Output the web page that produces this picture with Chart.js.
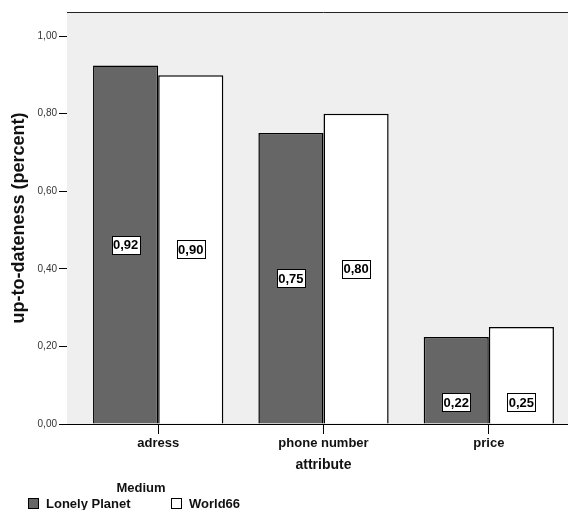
<!DOCTYPE html>
<html>
<head>
<meta charset="utf-8">
<script src="https://cdn.jsdelivr.net/npm/chart.js@4/dist/chart.umd.min.js"></script>
<style>
  html, body { margin: 0; padding: 0; background: #fff; overflow: hidden; }
  canvas { display: block; }
</style>
</head>
<body>
<canvas id="chart" width="580" height="510"></canvas>
<script>
const categories = ['adress', 'phone number', 'price'];
const lonelyPlanet = [0.924, 0.75, 0.224];
const world66 = [0.899, 0.80, 0.25];
const seriesNames = ['Lonely Planet', 'World66'];
const yTicks = [0, 0.2, 0.4, 0.6, 0.8, 1.0];

const FONT = 'Arial, "Liberation Sans", sans-serif';
const fmt = v => v.toFixed(2).replace('.', ',');

// grey plot background + top frame line
const plotFrame = {
  id: 'plotFrame',
  beforeDatasetsDraw(chart) {
    const { ctx, chartArea: a } = chart;
    ctx.save();
    ctx.fillStyle = '#efefef';
    ctx.fillRect(a.left, a.top, a.right - a.left, a.bottom - a.top);
    ctx.strokeStyle = '#222';
    ctx.lineWidth = 1;
    ctx.beginPath();
    ctx.moveTo(a.left, a.top + 0.5);
    ctx.lineTo(a.right, a.top + 0.5);
    ctx.stroke();
    ctx.restore();
  }
};

// boxed value labels inside the bars (short bars: near the bottom)
const valueBoxes = {
  id: 'valueBoxes',
  afterDatasetsDraw(chart) {
    const { ctx } = chart;
    ctx.save();
    ctx.font = 'bold 13px ' + FONT;
    ctx.textAlign = 'center';
    ctx.textBaseline = 'middle';
    chart.data.datasets.forEach((ds, di) => {
      chart.getDatasetMeta(di).data.forEach((bar, i) => {
        const text = fmt(ds.data[i].y);
        const w = Math.round(ctx.measureText(text).width + 3);
        const h = 18;
        const tall = bar.base - bar.y > 120;
        const y = tall ? (bar.y + bar.base) / 2 : bar.base - 21.5;
        const x = bar.x;
        const bx = Math.round(x - w / 2) + 0.5;
        const by = Math.round(y - h / 2) + 0.5;
        ctx.fillStyle = '#fff';
        ctx.fillRect(bx, by, w, h);
        ctx.strokeStyle = '#000';
        ctx.lineWidth = 1;
        ctx.strokeRect(bx, by, w, h);
        ctx.fillStyle = '#000';
        ctx.fillText(text, x, y + 1);
      });
    });
    ctx.restore();
  }
};

// SPSS style legend at the bottom left
const bottomLegend = {
  id: 'bottomLegend',
  afterDraw(chart) {
    const { ctx } = chart;
    ctx.save();
    ctx.font = 'bold 13px ' + FONT;
    ctx.fillStyle = '#111';
    ctx.textAlign = 'center';
    ctx.textBaseline = 'middle';
    ctx.fillText('Medium', 141, 488);
    ctx.textAlign = 'left';
    chart.data.datasets.forEach((ds, i) => {
      const x = 28 + i * 143;
      ctx.fillStyle = ds.backgroundColor;
      ctx.fillRect(x + 0.5, 498.5, 10, 10);
      ctx.strokeStyle = '#000';
      ctx.lineWidth = 1;
      ctx.strokeRect(x + 0.5, 498.5, 10, 10);
      ctx.fillStyle = '#111';
      ctx.fillText(ds.label, x + 18, 504);
    });
    ctx.restore();
  }
};

new Chart(document.getElementById('chart'), {
  type: 'bar',
  data: {
    datasets: [
      {
        label: seriesNames[0],
        data: lonelyPlanet.map((v, i) => ({ x: i, y: v })),
        backgroundColor: '#666666',
        borderColor: '#000000',
        borderWidth: 1.5,
      },
      {
        label: seriesNames[1],
        data: world66.map((v, i) => ({ x: i, y: v })),
        backgroundColor: '#ffffff',
        borderColor: '#000000',
        borderWidth: 1.5,
      },
    ],
  },
  options: {
    responsive: false,
    animation: false,
    barPercentage: 1,
    categoryPercentage: 0.788,
    layout: { padding: { top: 12, left: 0, right: 0, bottom: 30 } },
    plugins: {
      legend: { display: false },
      tooltip: { enabled: false },
    },
    scales: {
      x: {
        type: 'linear',
        min: -0.5515,
        max: 2.5515,
        offset: false,
        grid: { offset: false, drawOnChartArea: false, drawTicks: true, tickLength: 10, color: '#000' },
        border: { display: true, color: '#000', width: 1 },
        afterBuildTicks: s => { s.ticks = categories.map((c, i) => ({ value: i })); },
        afterFit: s => { s.height = 56; },
        ticks: {
          autoSkip: false,
          maxRotation: 0,
          padding: 2,
          color: '#111',
          font: { family: FONT, size: 13, weight: 'bold' },
          callback: v => categories[v],
        },
        title: {
          display: true,
          text: 'attribute',
          color: '#111',
          font: { family: FONT, size: 14, weight: 'bold' },
          padding: { top: 0, bottom: 6 },
        },
      },
      y: {
        min: 0,
        max: 1.062,
        grid: { drawOnChartArea: false, drawTicks: true, tickLength: 8, color: '#000' },
        border: { display: true, color: '#000', width: 1 },
        afterBuildTicks: s => { s.ticks = yTicks.map(v => ({ value: v })); },
        afterFit: s => { s.width = 67; },
        ticks: {
          padding: 2,
          color: '#333',
          font: { family: FONT, size: 10 },
          callback: v => fmt(v),
        },
        title: {
          display: true,
          text: 'up-to-dateness (percent)',
          color: '#111',
          font: { family: FONT, size: 18, weight: 'bold' },
          padding: { top: 8, bottom: 0 },
        },
      },
    },
  },
  plugins: [plotFrame, valueBoxes, bottomLegend],
});
</script>
</body>
</html>
